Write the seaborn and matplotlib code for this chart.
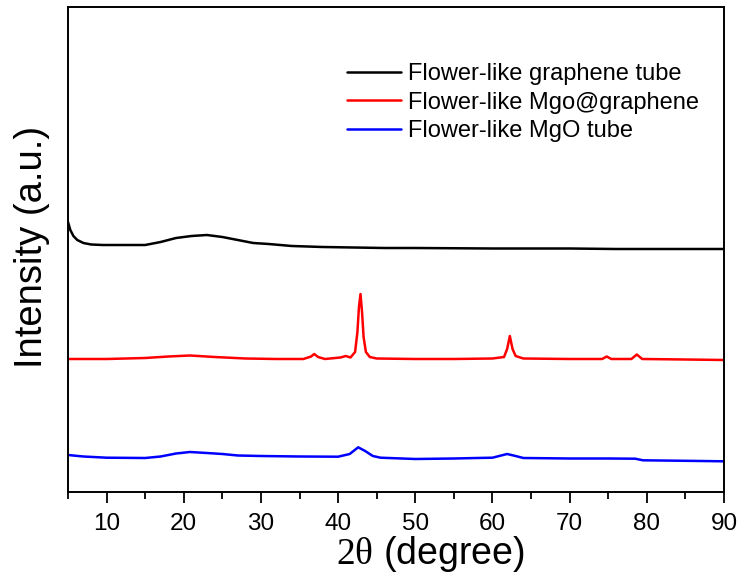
import matplotlib
matplotlib.use("Agg")
import matplotlib.pyplot as plt
import seaborn as sns
import pandas as pd
from matplotlib.ticker import MultipleLocator, NullLocator

sns.set_theme(style="white")
plt.rcParams["font.family"] = ["Liberation Sans", "DejaVu Sans"]
plt.rcParams["mathtext.fontset"] = "custom"
plt.rcParams["mathtext.rm"] = "Liberation Serif"
plt.rcParams["text.color"] = "black"
plt.rcParams["axes.labelcolor"] = "black"
plt.rcParams["xtick.color"] = "black"

# XRD patterns, stacked with offsets (arbitrary intensity units)
x_graphene = [5.0, 5.3, 5.7, 6.2, 7.0, 8.0, 9.5, 12, 15, 17, 19, 21, 23, 25, 27,
              29, 31, 34, 38, 42, 46, 50, 60, 70, 76, 80, 90]
y_graphene = [270, 262, 256, 252, 249, 247.5, 247, 247, 247, 250, 254, 256, 257,
              255, 252, 249, 248, 246, 245, 244.5, 244, 244, 243.5, 243.5, 243,
              243, 243]

x_mgo_g = [5, 10, 15, 18, 20.8, 24, 28, 32, 35.5, 36.5, 36.9, 37.4, 38.3, 40.3,
           41.0, 41.6, 42.2, 42.5, 42.7, 42.9, 43.1, 43.3, 43.6, 44.1, 45, 50, 55,
           60, 61.5, 61.9, 62.25, 62.6, 63, 64, 70, 74.2, 74.8, 75.4, 78.0, 78.7,
           79.4, 85, 90]
y_mgo_g = [133, 133, 134, 135.5, 136.5, 135, 133.5, 133, 133, 135.5, 138, 135,
           133, 134.5, 136, 134.5, 140, 160, 185, 198, 180, 155, 140, 135, 133.5,
           133, 133, 133.5, 135, 143, 156, 143, 136, 133.5, 133, 133, 135.5, 133,
           133, 137.5, 133, 132.5, 132]

x_mgo = [5, 7, 10, 15, 17, 19, 20.8, 23, 25, 27, 30, 35, 40, 41.5, 42.6, 43.5,
         44.5, 45.5, 50, 55, 58, 60, 61.9, 63, 64, 70, 75, 78.5, 79.5, 85, 90]
y_mgo = [37, 35.5, 34.3, 34, 35.5, 38.5, 40, 39, 38, 36.5, 36, 35.5, 35.3, 38,
         44.7, 41, 36, 34.3, 33, 33.5, 34, 34.3, 38, 36, 34, 33.5, 33.5, 33.3,
         31.7, 31.2, 30.7]

labels = ["Flower-like graphene tube", "Flower-like Mgo@graphene",
          "Flower-like MgO tube"]
colors = ["#000000", "#ff0000", "#0000ff"]

df = pd.concat([
    pd.DataFrame({"angle": x_graphene, "intensity": y_graphene, "sample": labels[0]}),
    pd.DataFrame({"angle": x_mgo_g, "intensity": y_mgo_g, "sample": labels[1]}),
    pd.DataFrame({"angle": x_mgo, "intensity": y_mgo, "sample": labels[2]}),
], ignore_index=True)

fig = plt.figure(figsize=(7.44, 5.77), dpi=100)
ax = fig.add_axes([68 / 744, 1 - 492 / 577, 656 / 744, 485 / 577])

sns.lineplot(data=df, x="angle", y="intensity", hue="sample", hue_order=labels,
             palette=colors, linewidth=1.8, sort=False, estimator=None, ax=ax)

ax.set_xlim(5, 90)
ax.set_ylim(0, 485)
ax.xaxis.set_major_locator(MultipleLocator(10))
ax.xaxis.set_minor_locator(MultipleLocator(5))
ax.yaxis.set_major_locator(NullLocator())
ax.tick_params(axis="x", which="major", direction="out", length=8, width=1.3,
               labelsize=17.5, pad=7, colors="black", bottom=True)
ax.tick_params(axis="x", which="minor", direction="out", length=5, width=1.3,
               bottom=True)
for s in ax.spines.values():
    s.set_linewidth(1.4)
    s.set_color("black")

ax.set_xlabel(r"$\mathrm{2θ}$ (degree)", fontsize=27, color="black")
ax.xaxis.set_label_coords(0.552, -0.086)
ax.set_ylabel("Intensity (a.u.)", fontsize=27.5, color="black")
ax.yaxis.set_label_coords(-0.027, 0.505)

leg = ax.legend(loc="upper left", bbox_to_anchor=(0.425, 0.884), frameon=False,
                fontsize=17, handlelength=2.3, handletextpad=0.3,
                labelspacing=0.27, borderpad=0, borderaxespad=0)
for line in leg.get_lines():
    line.set_linewidth(1.8)
for t in leg.get_texts():
    t.set_color("black")

fig.savefig("out.png", dpi=100)
